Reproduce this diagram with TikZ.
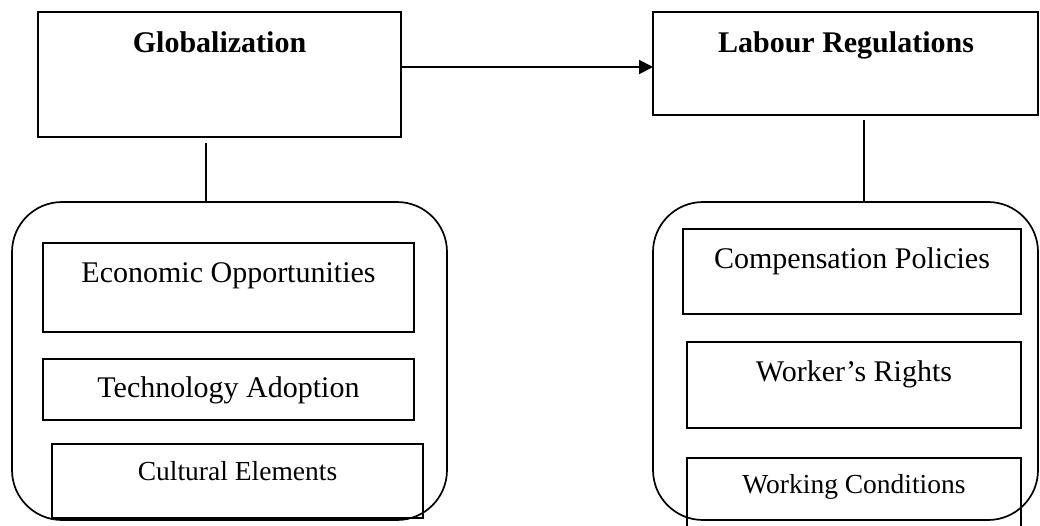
\documentclass[tikz,border=0pt]{standalone}
\usepackage{fontspec}
\setmainfont{Liberation Serif}
\usetikzlibrary{arrows.meta}
\tikzset{
  box/.style={draw, line width=2pt, rectangle, anchor=north west, inner sep=0pt, outer sep=0pt},
  group/.style={draw, line width=1.7pt, rectangle, rounded corners=50pt, anchor=north west, inner sep=0pt, outer sep=0pt},
  title/.style={anchor=base, inner sep=0pt, font=\fontsize{30}{36}\selectfont\bfseries},
  item/.style={anchor=base, inner sep=0pt, font=\fontsize{30}{36}\selectfont},
  smallitem/.style={anchor=base, inner sep=0pt, font=\fontsize{27.5}{33}\selectfont},
  link/.style={line width=1.3pt},
  arrowlink/.style={line width=2pt, -{Triangle[length=14pt, width=14pt]}}
}
\begin{document}
\begin{tikzpicture}[x=1pt, y=-1pt]
\useasboundingbox (0,0) rectangle (1040,525);
% top boxes
\node[box, minimum width=363pt, minimum height=125pt] (glob) at (38,12) {};
\node[box, minimum width=385pt, minimum height=103pt] (lab) at (653,12) {};
\node[title] (globt) at (219.5,52) {Globalization};
\node[title] (labt) at (846,52) {Labour Regulations};
% groups
\node[group, minimum width=435pt, minimum height=318pt] (globgrp) at (12,202) {};
\node[group, minimum width=385pt, minimum height=318pt] (labgrp) at (653,202) {};
% left items
\node[box, minimum width=371pt, minimum height=89pt] (eco) at (43,243) {};
\node[box, minimum width=371pt, minimum height=61pt] (tech) at (43,359) {};
\node[box, minimum width=371pt, minimum height=74pt] (cult) at (52,444) {};
\node[item] (ecot) at (228.5,282) {Economic Opportunities};
\node[item] (techt) at (228.5,397) {Technology Adoption};
\node[smallitem] (cultt) at (237.5,480) {Cultural Elements};
% right items
\node[box, minimum width=338pt, minimum height=85pt] (comp) at (683,229) {};
\node[box, minimum width=334pt, minimum height=86pt] (work) at (687,342) {};
\node[box, minimum width=334pt, minimum height=75pt] (cond) at (687,458) {};
\node[item] (compt) at (852,268) {Compensation Policies};
\node[item] (workt) at (854,381) {Worker’s Rights};
\node[smallitem] (condt) at (854,493) {Working Conditions};
% connectors
\coordinate (a1) at (glob.east |- 0,67);
\coordinate (a2) at (lab.west |- 0,67);
\draw[arrowlink] (a1) -- (a2);
\coordinate (l1) at (206,143);
\draw[link] (l1) -- (l1 |- globgrp.north);
\coordinate (r1) at (864,120);
\draw[link] (r1) -- (r1 |- labgrp.north);
\end{tikzpicture}
\end{document}
